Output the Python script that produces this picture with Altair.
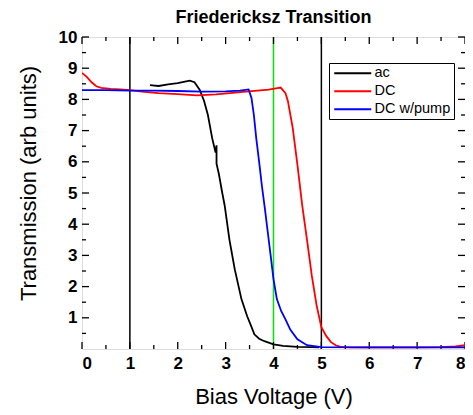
import altair as alt
import pandas as pd

# ---- data ----
ac_x = [1.42, 1.6, 1.8, 2.0, 2.15, 2.25, 2.35, 2.46, 2.55, 2.63, 2.72, 2.79, 2.81, 2.81, 2.86, 2.93, 2.98, 3.08, 3.19, 3.33, 3.45, 3.53, 3.6, 3.7, 3.81, 4.0, 4.2, 4.5, 4.8, 4.95]
ac_y = [8.46, 8.43, 8.48, 8.52, 8.57, 8.6, 8.55, 8.3, 7.95, 7.5, 6.75, 6.3, 6.53, 5.94, 5.6, 5.0, 4.6, 3.5, 2.56, 1.6, 1.05, 0.75, 0.47, 0.33, 0.25, 0.15, 0.1, 0.07, 0.06, 0.05]

dc_x = [0.0, 0.1, 0.2, 0.3, 0.4, 0.6, 0.8, 1.0, 1.3, 1.6, 2.0, 2.4, 2.8, 3.2, 3.6, 3.9, 4.05, 4.15, 4.25, 4.3, 4.4, 4.5, 4.6, 4.7, 4.8, 4.9, 5.0, 5.1, 5.2, 5.3, 5.4, 5.6, 6.0, 6.5, 7.0, 7.5, 7.8, 8.0]
dc_y = [8.85, 8.72, 8.55, 8.42, 8.37, 8.34, 8.32, 8.3, 8.24, 8.2, 8.17, 8.13, 8.16, 8.22, 8.27, 8.31, 8.35, 8.38, 8.2, 7.95, 7.1, 5.9, 4.6, 3.5, 2.35, 1.4, 0.7, 0.42, 0.22, 0.12, 0.07, 0.05, 0.05, 0.05, 0.05, 0.06, 0.08, 0.12]

pump_x = [0.0, 0.5, 1.0, 1.5, 2.0, 2.5, 3.0, 3.3, 3.48, 3.54, 3.59, 3.64, 3.7, 3.76, 3.82, 3.88, 3.94, 4.0, 4.07, 4.16, 4.25, 4.35, 4.5, 4.7, 5.0, 6.0, 7.0, 8.0]
pump_y = [8.3, 8.3, 8.28, 8.28, 8.27, 8.25, 8.26, 8.28, 8.32, 8.05, 7.5, 6.75, 6.0, 5.2, 4.5, 3.75, 3.0, 2.24, 1.6, 1.22, 0.95, 0.62, 0.31, 0.12, 0.06, 0.05, 0.05, 0.05]

series_names = ["ac", "DC", "DC w/pump"]
series_colors = ["black", "red", "blue"]

black_vlines = [1, 5]
green_vlines = [4]

x_major = [0, 1, 2, 3, 4, 5, 6, 7, 8]
x_minor = [0.5, 1.5, 2.5, 3.5, 4.5, 5.5, 6.5, 7.5]
y_major = [1, 2, 3, 4, 5, 6, 7, 8, 9, 10]
y_minor = [0.5, 1.5, 2.5, 3.5, 4.5, 5.5, 6.5, 7.5, 8.5, 9.5]

X_DOM = [0, 8]
Y_DOM = [0, 10]
W, H = 383, 312
FONT = "Liberation Sans"

# ---- build tables ----
rows = []
for name, xs, ys in [("ac", ac_x, ac_y), ("DC", dc_x, dc_y), ("DC w/pump", pump_x, pump_y)]:
    for i, (a, b) in enumerate(zip(xs, ys)):
        rows.append({"series": name, "V": a, "T": b, "idx": i})
df = pd.DataFrame(rows)

xs_u = (X_DOM[1] - X_DOM[0]) / W  # data units per px
ys_u = (Y_DOM[1] - Y_DOM[0]) / H
MAJ, MIN = 7, 4

tick_rows = []
for v in x_major:
    tick_rows.append({"x": v, "x2": v, "y": Y_DOM[0], "y2": Y_DOM[0] + MAJ * ys_u})
    tick_rows.append({"x": v, "x2": v, "y": Y_DOM[1], "y2": Y_DOM[1] - MAJ * ys_u})
for v in x_minor:
    tick_rows.append({"x": v, "x2": v, "y": Y_DOM[0], "y2": Y_DOM[0] + MIN * ys_u})
    tick_rows.append({"x": v, "x2": v, "y": Y_DOM[1], "y2": Y_DOM[1] - MIN * ys_u})
for v in y_major:
    tick_rows.append({"y": v, "y2": v, "x": X_DOM[0], "x2": X_DOM[0] + MAJ * xs_u})
    tick_rows.append({"y": v, "y2": v, "x": X_DOM[1], "x2": X_DOM[1] - MAJ * xs_u})
for v in y_minor:
    tick_rows.append({"y": v, "y2": v, "x": X_DOM[0], "x2": X_DOM[0] + MIN * xs_u})
    tick_rows.append({"y": v, "y2": v, "x": X_DOM[1], "x2": X_DOM[1] - MIN * xs_u})
ticks_df = pd.DataFrame(tick_rows)

xscale = alt.Scale(domain=X_DOM, nice=False, zero=False)
yscale = alt.Scale(domain=Y_DOM, nice=False, zero=False)

x_axis = alt.Axis(values=x_major, ticks=False, domain=False, grid=False, format="d",
                  labelOverlap=False, labelFont=FONT, labelFontWeight="bold", labelFontSize=17,
                  labelPadding=6, labelColor="black", title="Bias Voltage (V)", titleFont=FONT,
                  titleFontSize=22, titleFontWeight="normal", titleColor="black", titlePadding=15)
y_axis = alt.Axis(values=y_major, ticks=False, domain=False, grid=False, format="d",
                  labelOverlap=False, labelFont=FONT, labelFontWeight="bold", labelFontSize=17,
                  labelPadding=5, labelColor="black", title="Transmission (arb units)",
                  titleFont=FONT, titleFontSize=22, titleFontWeight="normal", titleColor="black",
                  titlePadding=18, titleY=146)

base_ticks = alt.Chart(ticks_df).mark_rule(color="black", strokeWidth=1.3).encode(
    x=alt.X("x:Q", scale=xscale, axis=x_axis),
    x2="x2:Q",
    y=alt.Y("y:Q", scale=yscale, axis=y_axis),
    y2="y2:Q",
)

vb = alt.Chart(pd.DataFrame({"v": black_vlines})).mark_rule(color="black", strokeWidth=1.5).encode(
    x=alt.X("v:Q", scale=xscale, axis=x_axis)
)
vg = alt.Chart(pd.DataFrame({"v": green_vlines})).mark_rule(color="#00e600", strokeWidth=1.5).encode(
    x=alt.X("v:Q", scale=xscale, axis=x_axis)
)

lines = alt.Chart(df).mark_line(strokeWidth=1.8, clip=True).encode(
    x=alt.X("V:Q", scale=xscale, axis=x_axis),
    y=alt.Y("T:Q", scale=yscale, axis=y_axis),
    order="idx:Q",
    color=alt.Color("series:N",
                    scale=alt.Scale(domain=series_names, range=series_colors),
                    legend=alt.Legend(title=None, orient="none", legendX=247, legendY=26,
                                      symbolType="M-1,0H6.4", symbolSize=100, symbolStrokeWidth=1.8,
                                      labelFont=FONT, labelFontSize=14.5, labelColor="black",
                                      strokeColor="black", fillColor="white", padding=3,
                                      rowPadding=3, labelOffset=28)),
)

chart = alt.layer(vb, vg, base_ticks, lines).properties(
    width=W, height=H,
    title=alt.TitleParams("Friedericksz Transition", font=FONT, fontSize=18, fontWeight="bold",
                          color="black", anchor="middle", offset=1),
    autosize=alt.AutoSizeParams(type="none"),
    padding={"left": 74, "top": 29, "right": 0, "bottom": 63},
).configure_view(stroke="black", strokeWidth=1.5).configure(background="white")

chart.save("out.html", embed_options={"renderer": "svg", "actions": False})
